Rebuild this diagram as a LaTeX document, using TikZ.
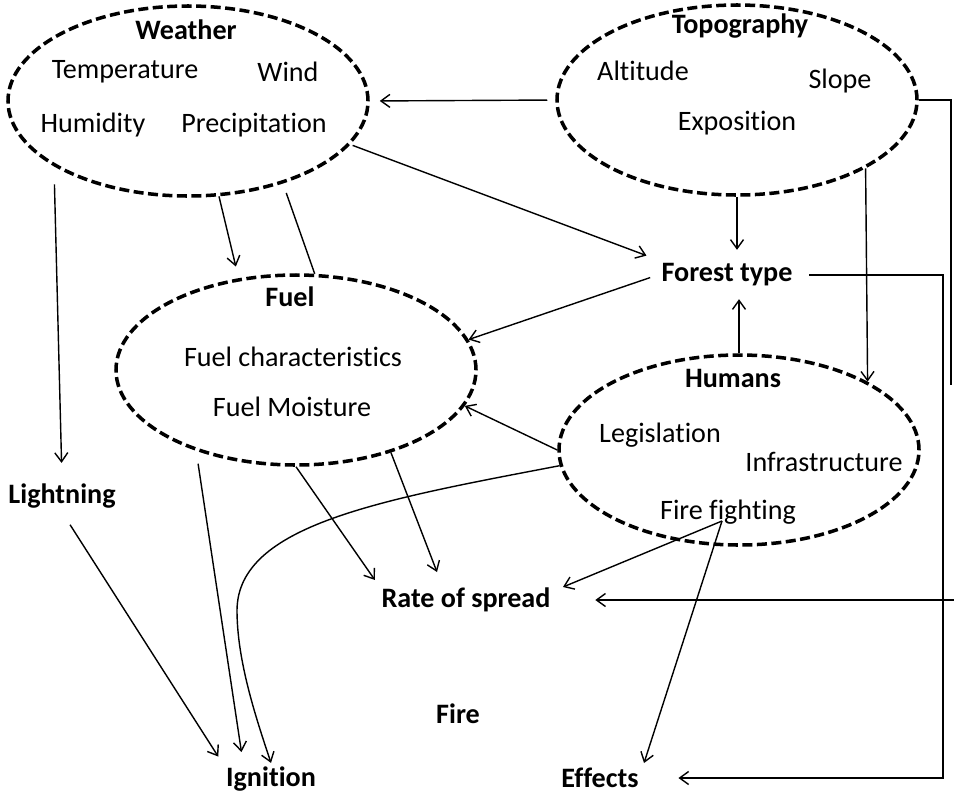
\documentclass[tikz,border=0pt]{standalone}
\usepackage{fontspec}
\setmainfont{Carlito}[Ligatures=NoCommon]
\usetikzlibrary{arrows.meta,positioning,calc,shapes.geometric}
\newcommand{\fsz}{\fontsize{16}{19}\selectfont}
\tikzset{
  grp/.style={ellipse, draw, line width=2pt, dash pattern=on 2mm off 0.9mm,
      minimum width=72mm, minimum height=38mm, inner sep=0pt},
  ttl/.style={font=\fsz\bfseries, inner sep=2pt},
  itm/.style={font=\fsz, inner sep=2pt},
  lnk/.style={line width=0.8pt},
  arr/.style={lnk, -{Straight Barb[length=1.8mm, width=2.6mm]}},
}

\begin{document}
\begin{tikzpicture}[x=0.2mm,y=-0.2mm]
\useasboundingbox (0,0) rectangle (954,796);
% groups
\node[grp] (weather) at (188,101) {};
\node[grp] (topo)    at (737,100) {};
\node[grp] (fuel)    at (296,370) {};
\node[grp] (humans)  at (739,450) {};
\node[ttl] (weatherT) at (186,30) {Weather};
\node[itm] (temp)   at (125,72)  {Temperature};
\node[itm] (wind)   at (288,72)  {Wind};
\node[itm] (humid)  at (93,125)  {Humidity};
\node[itm] (precip) at (254,125) {Precipitation};
\node[ttl] (topoT)  at (740,26)  {Topography};
\node[itm] (alti)   at (643,71)  {Altitude};
\node[itm] (slope)  at (840,81)  {Slope};
\node[itm] (expo)   at (737,123) {Exposition};
\node[ttl] (fuelT)  at (290,297) {Fuel};
\node[itm] (fchar)  at (293,357) {Fuel characteristics};
\node[itm] (fmoist) at (292,407) {Fuel Moisture};
\node[ttl] (humansT) at (733,378) {Humans};
\node[itm] (legis)  at (660,435) {Legislation};
\node[itm] (infra)  at (824,462) {Infrastructure};
\node[itm] (ffight) at (728,512) {Fire fighting};
% single factors
\node[ttl] (forest)    at (727,275) {Forest type};
\node[ttl] (lightning) at (62,496)  {Lightning};
\node[ttl] (spread)    at (466,600) {Rate of spread};
\node[ttl] (fire)      at (458,714) {Fire};
\node[ttl] (ignition)  at (271,779) {Ignition};
\node[ttl] (effects)   at (600,778) {Effects};
\coordinate (edgeT) at (951,385);
\coordinate (edgeE) at (943,0);
\coordinate (edgeS) at (954,600);
\coordinate (ffoot) at ($(ffight.center)+(-6,9)$);
% links
\draw[arr, shorten <=1.6mm, shorten >=2mm] (topo.west) -- (weather.east);
\draw[arr, shorten <=0.5mm, shorten >=2.4mm] (weather.-15) -- (forest.north west);
\draw[arr, shorten >=2mm] (topo.south) -- (topo.south |- forest.north);
\draw[arr, shorten >=1.8mm] (humans.north) -- (humans.north |- forest.south);
\draw[arr] (topo.-28) -- (humans.28);
\draw[lnk] (topo.east) -| (edgeT);
\draw[arr, shorten <=2.6mm, shorten >=7.2mm] (forest.east) -- (forest.east -| edgeE) |- (effects.east);
\draw[arr, shorten >=8.2mm] (edgeS) -- (spread.east);
\draw[arr, shorten <=3.6mm, shorten >=3.4mm] (weather.-154) -- (lightning.north);
\draw[arr, shorten >=2.4mm] (weather.-72) -- (fuel.122);
\draw[lnk, shorten <=2mm] (weather.-41) -- (fuel.79);
\draw[arr, shorten <=1.6mm] (forest.west) -- (fuel.10);
\draw[arr] (humans.west) -- (fuel.-12);
\draw[arr] (humans.-175) .. controls (380,500) and (238,525) .. (237,610)
      .. controls (237,660) and (255,715) .. (ignition.north);
\draw[arr, shorten <=3mm, shorten >=1.5mm] (lightning.south) -- (ignition.north west);
\draw[arr, shorten <=2.6mm, shorten >=2.2mm] (fuel.-141) -- (ignition.150);
\draw[arr, shorten >=1mm] (fuel.south) -- (spread.north west);
\draw[arr] (fuel.-41.5) -- ($(spread.center)+(-29,-28)$);
\draw[arr] (ffoot) -- ($(spread.center)+(97,-13)$);
\draw[arr] (ffoot) -- ($(effects.center)+(44,-15)$);
\end{tikzpicture}
\end{document}
